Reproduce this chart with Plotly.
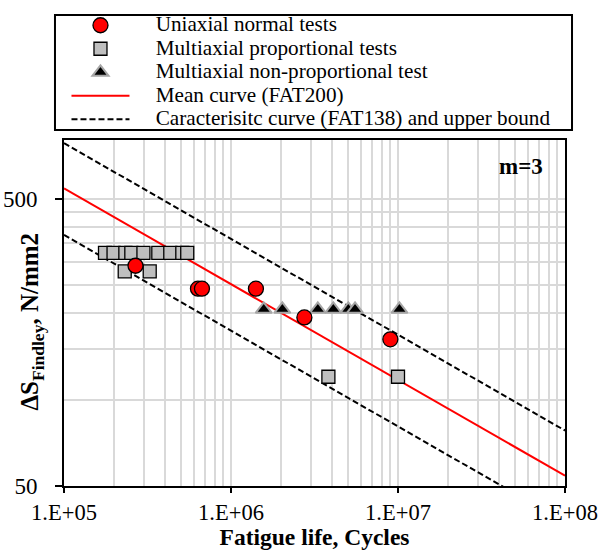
import plotly.graph_objects as go

# ---- data ----
uni_N = [2.68e5, 6.34e5, 6.70e5, 1.41e6, 2.75e6, 9.0e6]
uni_S = [292, 243, 243, 243, 193, 162]

prop_N = [1.76e5, 1.98e5, 2.33e5, 2.53e5, 2.99e5, 3.67e5, 4.33e5, 5.11e5, 5.47e5,
          2.31e5, 3.26e5, 3.83e6, 1.0e7]
prop_S = [324, 324, 324, 324, 324, 324, 324, 324, 324,
          279, 279, 120, 120]

nonprop_N = [1.57e6, 2.03e6, 3.31e6, 4.10e6, 5.04e6, 5.53e6, 1.02e7]
nonprop_S = [206, 206, 206, 206, 206, 206, 206]

# curve end points (N, S)
mean_N = [1e5, 1e8]
mean_S = [543, 54.3]
char_N = [1e5, 1e8, None, 1e5, 1e8]
char_S = [374, 37.4, None, 780, 78]

x_tickvals = [1e5, 1e6, 1e7, 1e8]
x_ticktext = ["1.E+05", "1.E+06", "1.E+07", "1.E+08"]
x_minor = [m * 10 ** e for e in (5, 6, 7) for m in range(2, 10)]
y_tickvals = [50, 500]
y_ticktext = ["50", "500"]
y_minor = [100, 150, 200, 250, 300, 350, 400, 450]

FONT = "'Liberation Serif', 'Times New Roman', Times, 'DejaVu Serif', serif"
PAD = "\u00a0" * 4
LEG = '<span style="font-size:21.2px">' + PAD + '%s</span>'

fig = go.Figure()
fig.add_trace(go.Scatter(x=mean_N, y=mean_S, mode="lines", name=LEG % "Mean curve (FAT200)",
                         line=dict(color="#ff0000", width=2), legendrank=4))
fig.add_trace(go.Scatter(x=char_N, y=char_S, mode="lines",
                         name=LEG % "Caracterisitc curve (FAT138) and upper bound",
                         line=dict(color="black", width=2, dash="6px,3px"), legendrank=5))
fig.add_trace(go.Scatter(x=prop_N, y=prop_S, mode="markers", name=LEG % "Multiaxial proportional tests",
                         marker=dict(symbol="square", size=13, color="#bfbfbf",
                                     line=dict(color="black", width=1.3)), legendrank=2))
fig.add_trace(go.Scatter(x=nonprop_N, y=nonprop_S, mode="markers",
                         name=LEG % "Multiaxial non-proportional test",
                         marker=dict(symbol="triangle-up", size=14, color="black",
                                     line=dict(color="#a6a6a6", width=2)), legendrank=3))
fig.add_trace(go.Scatter(x=uni_N, y=uni_S, mode="markers", name=LEG % "Uniaxial normal tests",
                         marker=dict(symbol="circle", size=15, color="#ff0000",
                                     line=dict(color="black", width=1.3)), legendrank=1))

grid = "#d9d9d9"
fig.update_layout(
    width=603, height=550,
    margin=dict(l=64, r=38, t=140, b=64, autoexpand=False),
    paper_bgcolor="white", plot_bgcolor="white",
    font=dict(family=FONT, color="black", size=23),
    showlegend=True,
    legend=dict(x=-0.017, y=1.38, xanchor="left", yanchor="top",
                borderwidth=0, bgcolor="rgba(255,255,255,0)",
                font=dict(family=FONT, size=15.77, color="black"),
                itemwidth=58, indentation=11, traceorder="normal"),
    xaxis=dict(type="log", range=[5, 8], tickmode="array", tickvals=x_tickvals,
               ticktext=x_ticktext, ticks="outside", ticklen=5, tickwidth=2, tickcolor="black",
               showline=True, linecolor="black", linewidth=2, mirror=True,
               showgrid=True, gridcolor=grid, gridwidth=1.5,
               minor=dict(tickmode="array", tickvals=x_minor, showgrid=True,
                          gridcolor=grid, gridwidth=1.5, ticks=""),
               tickfont=dict(family=FONT, size=22.5),
               title=dict(text="<b>Fatigue life, Cycles</b>", font=dict(family=FONT, size=23.5),
                          standoff=9),
               zeroline=False, automargin=False),
    yaxis=dict(type="log", range=[1.69897, 2.90309], tickmode="array", tickvals=y_tickvals,
               ticktext=y_ticktext, ticks="outside", ticklen=7, tickwidth=2, tickcolor="black",
               ticklabelstandoff=13,
               showline=True, linecolor="black", linewidth=2, mirror=True,
               showgrid=True, gridcolor=grid, gridwidth=1.5,
               minor=dict(tickmode="array", tickvals=y_minor, showgrid=True,
                          gridcolor=grid, gridwidth=1.5, ticks=""),
               tickfont=dict(family=FONT, size=23),
               zeroline=False, automargin=False),
)
# legend frame
fig.add_shape(type="rect", xref="paper", yref="paper",
              x0=-0.018, x1=1.014, y0=1.029, y1=1.361,
              line=dict(color="black", width=2), fillcolor="rgba(0,0,0,0)", layer="below")
# y-axis title (placed like the reference, overlapping the tick-label column)
fig.add_annotation(text="<b>ΔS<sub>Findley</sub>, N/mm2</b>", xref="paper", yref="paper",
                   x=-0.064, y=0.475, xanchor="center", yanchor="middle", textangle=-90,
                   showarrow=False, font=dict(family=FONT, size=25, color="black"))
fig.add_annotation(text="<b>m=3</b>", xref="paper", yref="paper", x=0.912, y=0.922,
                   xanchor="center", yanchor="middle",
                   showarrow=False, font=dict(family=FONT, size=23, color="black"))

fig.write_html("out.html")
